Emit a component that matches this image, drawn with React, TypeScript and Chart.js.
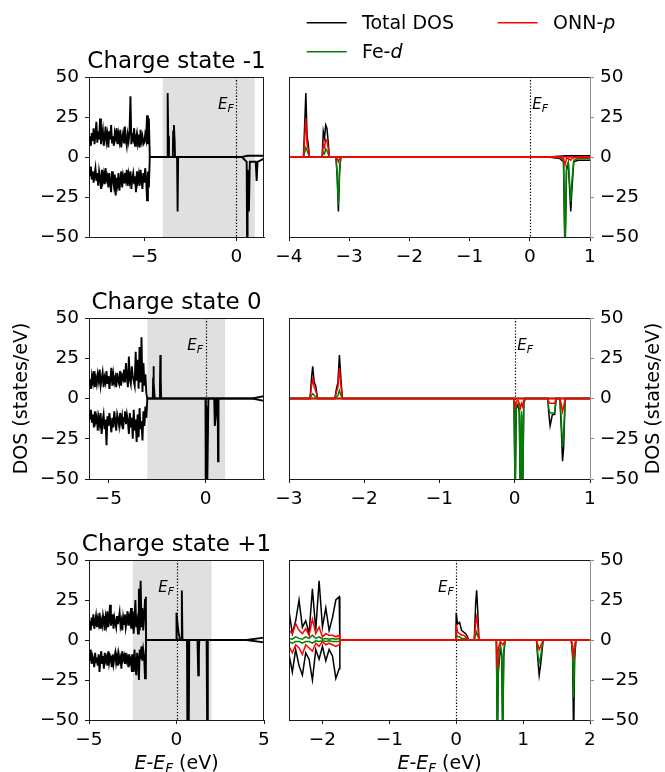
import React, { useEffect, useRef } from "react";
import { Chart, registerables } from "chart.js";

Chart.register(...registerables);

const FONT = '"DejaVu Sans", "Liberation Sans", sans-serif';
const PAGE_W = 665;
const PAGE_H = 772;

// ---------------- common labels ----------------
const dosTicks = [-50, -25, 0, 25, 50];
const seriesNames = ["Total DOS", "Fe-d", "ONN-p"];
const seriesColors = ["#000000", "#008000", "#ff0000"];
const stateTitles = ["Charge state -1", "Charge state 0", "Charge state +1"];
const efLabelDos = 30;
const noiseStep = 0.05;

// ---------------- Charge state -1 ----------------
const p1Range = [-8, 1.5];
const p1Ticks = [-5, 0];
const p1Shade = [-4, 1];
const p1NoiseStart = -8.0;
const p1TotUpNoise = [
  9, 13, 7, 15, 10, 18, 8, 14, 22, 9,
  16, 11, 24, 8, 13, 17, 7, 12, 19, 10,
  14, 6, 16, 11, 20, 9, 13, 7, 15, 12,
  18, 8, 14, 10, 17, 6, 12, 15, 9, 19,
  11, 7, 14, 10, 16, 38, 8, 13, 11, 18,
  7, 12, 15, 9, 14, 6, 17, 10, 13, 8,
  9, 14, 11, 26, 8, 24, 0,
];
const p1TotDnNoise = [
  -8, -12, -6, -14, -9, -16, -11, -7, -15, -10,
  -18, -9, -13, -20, -8, -15, -11, -17, -7, -14,
  -12, -19, -10, -16, -22, -9, -14, -18, -11, -24,
  -13, -17, -10, -21, -15, -9, -19, -12, -16, -10,
  -14, -8, -18, -11, -15, -9, -20, -13, -10, -17,
  -12, -22, -9, -15, -11, -18, -8, -14, -20, -10,
  -16, -7, -13, -27, -9, -19, 0,
];
const p1UpE = [-4.65, -3.76, -3.74, -3.72, -3.7, -3.66, -3.45, -3.43, -3.39, -3.35, -3.33, 0.3, 0.6, 1.5];
const p1TotUp = [0, 0, 20, 40, 13, 0, 0, 16, 20, 10, 0, 0, 0.8, 0.8];
const p1DnE = [-4.65, -3.22, -3.2, -3.18, -3.16, 0.3, 0.56, 0.585, 0.61, 0.68, 0.73, 1.05, 1.1, 1.15, 1.5];
const p1TotDn = [0, 0, -12, -34, 0, 0, -3, -62, -8, -34, -3, -3, -15, -3, -1];

// ---------------- Charge state -1, zoom ----------------
const p2Range = [-4, 1];
const p2Ticks = [-4, -3, -2, -1, 0, 1];
const p2UpE = [-4.0, -3.76, -3.74, -3.72, -3.7, -3.68, -3.66, -3.45, -3.43, -3.41, -3.39, -3.37, -3.35, -3.33, 0.3, 0.6, 1.0];
const p2TotUp = [0, 0, 20, 40, 13, 8, 0, 0, 16, 12, 20, 18, 10, 0, 0, 0.8, 0.8];
const p2FeUp = [0, 0, 3, 6, 4, 2, 0, 0, 3, 2, 5, 4, 2, 0, 0, 0.2, 0.2];
const p2OnnUp = [0, 0, 12, 24, 8, 5, 0, 0, 8, 6, 11, 10, 6, 0, 0, 0.2, 0.2];
const p2DnE = [-4.0, -3.22, -3.2, -3.18, -3.16, -3.14, 0.3, 0.5, 0.56, 0.585, 0.61, 0.64, 0.68, 0.7, 0.73, 0.8, 1.0];
const p2TotDn = [0, 0, -12, -34, -10, 0, 0, -1, -3, -62, -8, -4, -34, -20, -3, -2, -2];
const p2FeDn = [0, 0, -10, -30, -8, 0, 0, -0.5, -2, -60, -6, -3, -28, -15, -2, -1, -1];
const p2OnnDn = [0, 0, -1, -3, -1, 0, 0, -0.3, -1, -5, -1, -1, -2, -1, -0.5, -0.3, -0.3];

// ---------------- Charge state 0 ----------------
const p3Range = [-6, 3];
const p3Ticks = [-5, 0];
const p3Shade = [-3, 1];
const p3NoiseStart = -6.0;
const p3TotUpNoise = [
  8, 12, 6, 14, 10, 17, 7, 13, 9, 15,
  11, 18, 8, 12, 16, 7, 13, 10, 17, 9,
  14, 6, 12, 19, 8, 15, 10, 13, 7, 16,
  11, 9, 17, 8, 14, 12, 18, 10, 22, 13,
  7, 26, 12, 9, 20, 14, 11, 8, 29, 11,
  24, 6, 32, 10, 38, 4, 22, 8, 15, 3, 0,
];
const p3TotDnNoise = [
  -9, -13, -7, -15, -10, -18, -8, -14, -11, -20,
  -12, -16, -9, -22, -14, -10, -19, -13, -29, -11,
  -17, -9, -15, -21, -12, -18, -8, -14, -20, -10,
  -13, -17, -9, -15, -11, -19, -12, -8, -16, -10,
  -14, -22, -9, -18, -12, -25, -7, -20, -13, -27,
  -10, -24, -6, -19, -14, -26, -8, -17, -5, -12, 0,
];
const p3UpE = [-2.95, -2.72, -2.7, -2.685, -2.665, -2.62, -2.39, -2.35, -2.33, -2.31, -2.29, 2.4, 3.0];
const p3TotUp = [0, 0, 13, 20, 10, 0, 0, 10, 27, 12, 0, 0, 1.5];
const p3DnE = [-2.95, -0.01, 0.005, 0.04, 0.075, 0.105, 0.14, 0.44, 0.47, 0.53, 0.55, 0.62, 0.635, 0.65, 0.67, 2.4, 3.0];
const p3TotDn = [0, 0, -62, -5, -62, -62, 0, 0, -17, -10, 0, 0, -39, -30, 0, 0, -1.5];

// ---------------- Charge state 0, zoom ----------------
const p4Range = [-3, 1];
const p4Ticks = [-3, -2, -1, 0, 1];
const p4UpE = [-3.0, -2.72, -2.7, -2.685, -2.665, -2.645, -2.62, -2.39, -2.37, -2.35, -2.33, -2.31, -2.29, 1.0];
const p4TotUp = [0, 0, 13, 20, 10, 8, 0, 0, 6, 10, 27, 12, 0, 0];
const p4FeUp = [0, 0, 2, 3, 2, 1, 0, 0, 1, 2, 5, 2, 0, 0];
const p4OnnUp = [0, 0, 8, 12, 7, 5, 0, 0, 4, 7, 19, 8, 0, 0];
const p4DnE = [-3.0, -0.01, 0.005, 0.02, 0.04, 0.06, 0.075, 0.09, 0.105, 0.12, 0.14, 0.44, 0.45, 0.47, 0.5, 0.53, 0.55, 0.6, 0.62, 0.635, 0.65, 0.67, 1.0];
const p4TotDn = [0, 0, -62, -6, -4, -8, -62, -10, -62, -3, 0, 0, -8, -17, -10, -10, 0, 0, -20, -39, -30, 0, 0];
const p4FeDn = [0, 0, -60, -4, -3, -6, -60, -8, -60, -2, 0, 0, -6, -9, -9, -9, 0, 0, -15, -30, -22, 0, 0];
const p4OnnDn = [0, 0, -5, -2, -1, -3, -6, -3, -5, -1, 0, 0, -2, -3, -3, -3, 0, 0, -4, -8, -5, 0, 0];

// ---------------- Charge state +1 ----------------
const p5Range = [-5, 5];
const p5Ticks = [-5, 0, 5];
const p5Shade = [-2.5, 2];
const p5NoiseStart = -5.0;
const p5TotUpNoise = [
  8, 12, 6, 14, 9, 16, 7, 11, 15, 8,
  13, 10, 17, 7, 12, 9, 15, 11, 6, 14,
  10, 18, 8, 13, 22, 9, 12, 16, 7, 14,
  11, 8, 15, 10, 13, 17, 9, 12, 6, 14,
  10, 16, 8, 12, 18, 9, 14, 11, 20, 7,
  18, 4, 12, 25, 8, 12, 4, 32, 6, 37, 8, 20, 6, 14, 25, 27,
];
const p5TotDnNoise = [
  -9, -13, -6, -15, -10, -12, -17, -8, -14, -11,
  -16, -9, -20, -12, -7, -15, -10, -18, -8, -13,
  -11, -16, -7, -14, -10, -12, -17, -9, -15, -11,
  -8, -14, -10, -16, -9, -13, -11, -18, -7, -12,
  -10, -15, -8, -13, -11, -17, -9, -14, -12, -20,
  -9, -20, -6, -16, -22, -8, -12, -25, -6, -12, -4, -13, -6, -10, -24, -18,
];
const p5UpE = [-1.74, -0.005, 0.0, 0.05, 0.11, 0.17, 0.18, 0.27, 0.305, 0.34, 4.0, 5.0];
const p5TotUp = [0, 0, 17, 11, 5, 2, 0, 0, 31, 0, 0, 1.5];
const p5DnE = [-1.74, 0.6, 0.615, 0.63, 0.68, 0.695, 0.73, 1.2, 1.24, 1.28, 1.3, 1.72, 1.755, 1.79, 4.0, 5.0];
const p5TotDn = [0, 0, -62, -20, -10, -62, 0, 0, -22, -8, 0, 0, -62, 0, 0, -1.5];

// ---------------- Charge state +1, zoom ----------------
const p6Range = [-2.5, 2];
const p6Ticks = [-2, -1, 0, 1, 2];
const p6NoiseStart = -2.5;
const p6TotUpNoise = [18, 4, 12, 25, 8, 12, 4, 32, 6, 37, 8, 20, 6, 14, 25, 27];
const p6TotDnNoise = [-9, -20, -6, -16, -22, -8, -12, -25, -6, -12, -4, -13, -6, -10, -24, -18];
const p6OnnUpNoise = [6, 4, 10, 6, 4, 7, 3, 13, 4, 8, 2, 4, 3, 3, 2, 3];
const p6OnnDnNoise = [-4, -8, -3, -5, -9, -3, -5, -7, -2, -4, -1, -3, -2, -3, -4, -3];
const p6FeUpNoise = [1, 0.5, 2, 1, 0.5, 2, 1, 3, 1, 2, 0.5, 1, 0.5, 1, 0.5, 1];
const p6FeDnNoise = [-1, -2, -1, -1, -2, -1, -1, -2, -0.5, -1, -0.5, -1, -0.5, -1, -1, -1];
const p6UpE = [-1.74, -0.005, 0.0, 0.02, 0.05, 0.08, 0.11, 0.14, 0.17, 0.18, 0.27, 0.29, 0.305, 0.32, 0.34, 2.0];
const p6TotUp = [0, 0, 17, 10, 11, 6, 5, 4, 2, 0, 0, 22, 31, 20, 0, 0];
const p6OnnUp = [0, 0, 10, 5, 4, 3, 3, 2, 1, 0, 0, 10, 14, 10, 0, 0];
const p6FeUp = [0, 0, 4, 2, 2, 1, 1, 1, 0.5, 0, 0, 3, 5, 3, 0, 0];
const p6DnE = [-1.74, 0.6, 0.615, 0.63, 0.66, 0.68, 0.695, 0.71, 0.73, 1.2, 1.22, 1.24, 1.26, 1.28, 1.3, 1.72, 1.74, 1.755, 1.77, 1.79, 2.0];
const p6TotDn = [0, 0, -62, -20, -5, -10, -62, -10, 0, 0, -12, -22, -16, -8, 0, 0, -10, -62, -12, 0, 0];
const p6FeDn = [0, 0, -60, -15, -3, -8, -60, -8, 0, 0, -9, -14, -11, -5, 0, 0, -8, -36, -8, 0, 0];
const p6OnnDn = [0, 0, -18, -5, -1, -2, -3, -2, 0, 0, -3, -6, -4, -2, 0, 0, -4, -12, -3, 0, 0];

// ---------------- helpers ----------------
type Pt = { x: number; y: number };
const zip = (es: number[], ds: number[]): Pt[] => es.map((e, i) => ({ x: e, y: ds[i] }));
const onGrid = (start: number, ds: number[]): Pt[] =>
  ds.map((d, i) => ({ x: Math.round((start + i * noiseStep) * 1000) / 1000, y: d }));

interface Series { kind: number; up: Pt[]; dn: Pt[] }
interface Panel {
  box: { left: number; top: number; right: number; bottom: number };
  xRange: number[];
  xTicks: number[];
  shade?: number[];
  yPos: "left" | "right";
  title?: string;
  efSide: "left" | "right";
  yLabel?: boolean;
  xLabel?: boolean;
  legend?: boolean;
  lineWidth: number;
  series: Series[];
}

const panels: Panel[] = [
  {
    box: { left: 89, top: 77, right: 264, bottom: 237 },
    xRange: p1Range, xTicks: p1Ticks, shade: p1Shade, yPos: "left", title: stateTitles[0], efSide: "left", lineWidth: 1.9,
    series: [{ kind: 0, up: [...onGrid(p1NoiseStart, p1TotUpNoise), ...zip(p1UpE, p1TotUp)], dn: [...onGrid(p1NoiseStart, p1TotDnNoise), ...zip(p1DnE, p1TotDn)] }],
  },
  {
    box: { left: 289, top: 77, right: 590, bottom: 237 },
    xRange: p2Range, xTicks: p2Ticks, yPos: "right", efSide: "right", legend: true, lineWidth: 1.5,
    series: [
      { kind: 0, up: zip(p2UpE, p2TotUp), dn: zip(p2DnE, p2TotDn) },
      { kind: 1, up: zip(p2UpE, p2FeUp), dn: zip(p2DnE, p2FeDn) },
      { kind: 2, up: zip(p2UpE, p2OnnUp), dn: zip(p2DnE, p2OnnDn) },
    ],
  },
  {
    box: { left: 89, top: 318, right: 264, bottom: 479 },
    xRange: p3Range, xTicks: p3Ticks, shade: p3Shade, yPos: "left", title: stateTitles[1], efSide: "left", yLabel: true, lineWidth: 1.9,
    series: [{ kind: 0, up: [...onGrid(p3NoiseStart, p3TotUpNoise), ...zip(p3UpE, p3TotUp)], dn: [...onGrid(p3NoiseStart, p3TotDnNoise), ...zip(p3DnE, p3TotDn)] }],
  },
  {
    box: { left: 289, top: 318, right: 590, bottom: 479 },
    xRange: p4Range, xTicks: p4Ticks, yPos: "right", efSide: "right", yLabel: true, lineWidth: 1.5,
    series: [
      { kind: 0, up: zip(p4UpE, p4TotUp), dn: zip(p4DnE, p4TotDn) },
      { kind: 1, up: zip(p4UpE, p4FeUp), dn: zip(p4DnE, p4FeDn) },
      { kind: 2, up: zip(p4UpE, p4OnnUp), dn: zip(p4DnE, p4OnnDn) },
    ],
  },
  {
    box: { left: 89, top: 560, right: 264, bottom: 720 },
    xRange: p5Range, xTicks: p5Ticks, shade: p5Shade, yPos: "left", title: stateTitles[2], efSide: "left", xLabel: true, lineWidth: 1.9,
    series: [{ kind: 0, up: [...onGrid(p5NoiseStart, p5TotUpNoise), ...zip(p5UpE, p5TotUp)], dn: [...onGrid(p5NoiseStart, p5TotDnNoise), ...zip(p5DnE, p5TotDn)] }],
  },
  {
    box: { left: 289, top: 560, right: 590, bottom: 720 },
    xRange: p6Range, xTicks: p6Ticks, yPos: "right", efSide: "left", xLabel: true, lineWidth: 1.5,
    series: [
      { kind: 0, up: [...onGrid(p6NoiseStart, p6TotUpNoise), ...zip(p6UpE, p6TotUp)], dn: [...onGrid(p6NoiseStart, p6TotDnNoise), ...zip(p6DnE, p6TotDn)] },
      { kind: 1, up: [...onGrid(p6NoiseStart, p6FeUpNoise), ...zip(p6UpE, p6FeUp)], dn: [...onGrid(p6NoiseStart, p6FeDnNoise), ...zip(p6DnE, p6FeDn)] },
      { kind: 2, up: [...onGrid(p6NoiseStart, p6OnnUpNoise), ...zip(p6UpE, p6OnnUp)], dn: [...onGrid(p6NoiseStart, p6OnnDnNoise), ...zip(p6DnE, p6OnnDn)] },
    ],
  },
];

// ---------------- drawing helpers ----------------
type Run = { t: string; italic?: boolean; size?: number; dy?: number };
const fontOf = (r: Run, base: number) => `${r.italic ? "italic " : ""}${r.size ?? base}px ${FONT}`;

function runsWidth(ctx: CanvasRenderingContext2D, runs: Run[], base: number) {
  let w = 0;
  for (const r of runs) {
    ctx.font = fontOf(r, base);
    w += ctx.measureText(r.t).width;
  }
  return w;
}

function drawRuns(ctx: CanvasRenderingContext2D, runs: Run[], x: number, y: number, base: number, align: "left" | "center" | "right") {
  const w = runsWidth(ctx, runs, base);
  let cx = align === "left" ? x : align === "center" ? x - w / 2 : x - w;
  ctx.textAlign = "left";
  ctx.textBaseline = "alphabetic";
  for (const r of runs) {
    ctx.font = fontOf(r, base);
    ctx.fillText(r.t, cx, y + (r.dy ?? 0));
    cx += ctx.measureText(r.t).width;
  }
}

function nameRuns(name: string): Run[] {
  const i = name.lastIndexOf("-");
  if (i < 0) return [{ t: name }];
  return [{ t: name.slice(0, i + 1) }, { t: name.slice(i + 1), italic: true }];
}

const efRuns: Run[] = [{ t: "E", italic: true }, { t: "F", italic: true, size: 11, dy: 3 }];
const xLabelRuns: Run[] = [
  { t: "E", italic: true },
  { t: "-" },
  { t: "E", italic: true },
  { t: "F", italic: true, size: 13.5, dy: 4 },
  { t: " (eV)" },
];

const SPINE = "#1a1a1a";
const RIGHT_SPINE = "#8f8f8f";

function makeDecor(p: Panel) {
  return {
    id: "decor",
    beforeDatasetsDraw(chart: any) {
      const { ctx, chartArea: a, scales } = chart;
      const xs = scales.x;
      ctx.save();
      if (p.shade) {
        const x1 = xs.getPixelForValue(p.shade[0]);
        const x2 = xs.getPixelForValue(p.shade[1]);
        ctx.fillStyle = "#e0e0e0";
        ctx.fillRect(x1, a.top, x2 - x1, a.bottom - a.top);
      }
      const x0 = Math.round(xs.getPixelForValue(0)) + 0.5;
      ctx.strokeStyle = "#000";
      ctx.lineWidth = 1.2;
      ctx.setLineDash([1.3, 1.8]);
      ctx.beginPath();
      ctx.moveTo(x0, a.top);
      ctx.lineTo(x0, a.bottom);
      ctx.stroke();
      ctx.restore();
    },
    afterDraw(chart: any) {
      const { ctx, chartArea: a, scales } = chart;
      const xs = scales.x;
      const ys = scales.y;
      ctx.save();
      ctx.lineWidth = 1;
      ctx.strokeStyle = SPINE;
      const top = Math.round(a.top) + 0.5;
      ctx.beginPath();
      ctx.moveTo(a.left, top);
      ctx.lineTo(a.right, top);
      if (p.yPos === "left") {
        const r = Math.round(a.right) - 0.5;
        ctx.moveTo(r, a.top);
        ctx.lineTo(r, a.bottom);
      } else {
        const l = Math.round(a.left) + 0.5;
        ctx.moveTo(l, a.top);
        ctx.lineTo(l, a.bottom);
      }
      ctx.stroke();

      ctx.fillStyle = "#000";
      const x0 = xs.getPixelForValue(0);
      const yb = ys.getPixelForValue(efLabelDos);
      if (p.efSide === "left") drawRuns(ctx, efRuns, x0 - 2.5, yb, 15, "right");
      else drawRuns(ctx, efRuns, x0 + 2.5, yb, 15, "left");

      if (p.title) {
        drawRuns(ctx, [{ t: p.title }], (a.left + a.right) / 2, a.top - 8.7, 23, "center");
      }
      if (p.yLabel) {
        const xc = p.yPos === "left" ? a.left - 66.5 : a.right + 64.2;
        ctx.save();
        ctx.translate(xc, (a.top + a.bottom) / 2);
        ctx.rotate(-Math.PI / 2);
        ctx.font = `19px ${FONT}`;
        ctx.textAlign = "center";
        ctx.textBaseline = "middle";
        ctx.fillText("DOS (states/eV)", 0, 0);
        ctx.restore();
      }
      if (p.xLabel) {
        drawRuns(ctx, xLabelRuns, (a.left + a.right) / 2, a.bottom + 48.5, 19, "center");
      }
      if (p.legend) {
        const slots = [
          { kind: 0, col: 0, row: 0 },
          { kind: 1, col: 0, row: 1 },
          { kind: 2, col: 1, row: 0 },
        ];
        const colX = [a.left + 17.7, a.left + 208.7];
        const rowY = [a.top - 47.7, a.top - 18.7];
        for (const s of slots) {
          const lx = colX[s.col];
          const by = rowY[s.row];
          ctx.strokeStyle = seriesColors[s.kind];
          ctx.lineWidth = 1.5;
          ctx.beginPath();
          ctx.moveTo(lx, by - 6.6);
          ctx.lineTo(lx + 40, by - 6.6);
          ctx.stroke();
          ctx.fillStyle = "#000";
          drawRuns(ctx, nameRuns(seriesNames[s.kind]), lx + 55.3, by, 19, "left");
        }
      }
      ctx.restore();
    },
  };
}

const fmtTick = (v: any) => {
  const n = Number(v);
  return n < 0 ? "\u2212" + Math.abs(n) : String(n);
};

const Y_W = 60;
const X_H = 30;

function PanelChart({ p }: { p: Panel }) {
  const ref = useRef<HTMLCanvasElement | null>(null);
  useEffect(() => {
    if (!ref.current) return;
    const datasets: any[] = [];
    for (const s of p.series) {
      for (const d of [s.up, s.dn]) {
        datasets.push({
          label: seriesNames[s.kind],
          data: d,
          borderColor: seriesColors[s.kind],
          backgroundColor: seriesColors[s.kind],
          borderWidth: p.lineWidth,
          pointRadius: 0,
          tension: 0,
          fill: false,
          // ONN-p drawn on top, then Fe-d, then Total DOS underneath
          order: s.kind === 2 ? 0 : s.kind === 1 ? 1 : 2,
        });
      }
    }
    const padding =
      p.yPos === "left"
        ? { left: p.box.left - Y_W, right: PAGE_W - p.box.right, top: p.box.top, bottom: PAGE_H - p.box.bottom - X_H }
        : { left: p.box.left, right: PAGE_W - p.box.right - Y_W, top: p.box.top, bottom: PAGE_H - p.box.bottom - X_H };
    const yCol = p.yPos === "right" ? RIGHT_SPINE : SPINE;
    const chart = new Chart(ref.current, {
      type: "line",
      data: { datasets },
      options: {
        animation: false,
        responsive: false,
        events: [],
        layout: { padding },
        plugins: { legend: { display: false }, tooltip: { enabled: false }, title: { display: false } },
        scales: {
          x: {
            type: "linear",
            min: p.xRange[0],
            max: p.xRange[1],
            afterBuildTicks: (s: any) => {
              s.ticks = p.xTicks.map((v) => ({ value: v }));
            },
            afterFit: (s: any) => {
              s.height = X_H;
            },
            ticks: { font: { family: FONT, size: 18.5 }, color: "#000", padding: 5, callback: fmtTick, maxRotation: 0, autoSkip: false },
            grid: { drawOnChartArea: false, drawTicks: true, tickLength: 4, color: SPINE, lineWidth: 1 },
            border: { display: true, color: SPINE, width: 1 },
          },
          y: {
            type: "linear",
            position: p.yPos,
            min: -50,
            max: 50,
            afterBuildTicks: (s: any) => {
              s.ticks = dosTicks.map((v) => ({ value: v }));
            },
            afterFit: (s: any) => {
              s.width = Y_W;
            },
            ticks: { font: { family: FONT, size: 18.5 }, color: "#000", padding: 6, callback: fmtTick, autoSkip: false },
            grid: { drawOnChartArea: false, drawTicks: true, tickLength: 4, color: yCol, lineWidth: 1 },
            border: { display: true, color: yCol, width: 1 },
          },
        },
      } as any,
      plugins: [makeDecor(p) as any],
    });
    return () => chart.destroy();
  }, [p]);
  return (
    <canvas
      ref={ref}
      width={PAGE_W}
      height={PAGE_H}
      style={{ position: "absolute", left: 0, top: 0, width: PAGE_W, height: PAGE_H }}
    />
  );
}

export default function App() {
  return (
    <div style={{ position: "absolute", left: 0, top: 0, width: PAGE_W, height: PAGE_H, background: "#fff", overflow: "hidden" }}>
      {panels.map((p, i) => (
        <PanelChart key={i} p={p} />
      ))}
    </div>
  );
}
